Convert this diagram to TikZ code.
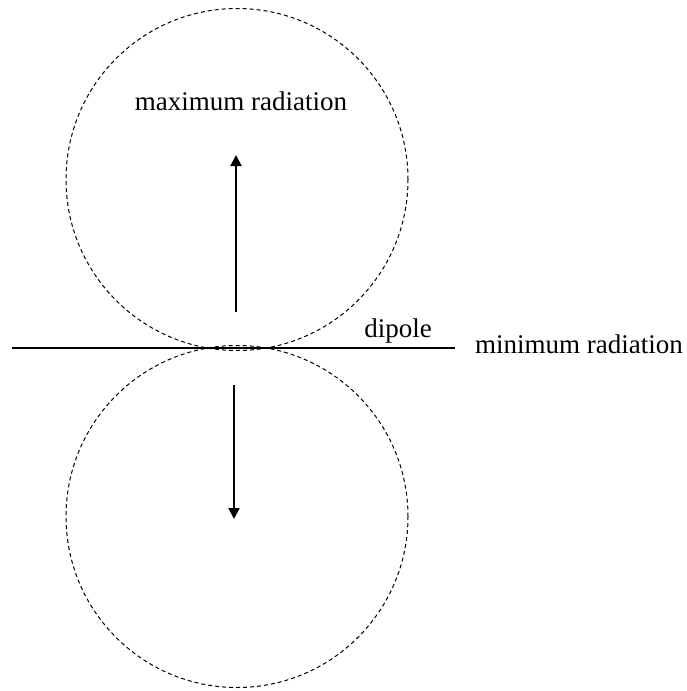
\documentclass[tikz,border=0pt]{standalone}
\usepackage{fontspec}
\setmainfont{Liberation Serif}
\usetikzlibrary{arrows.meta,positioning}

\tikzset{
  lobe/.style={circle,draw,dashed,dash pattern=on 2pt off 1.5pt,line width=0.5pt,
    minimum size=171pt,inner sep=0pt,outer sep=0pt},
  field/.style={line width=1pt,-{Triangle[length=5.5pt,width=5.5pt]}},
  lbl/.style={font=\fontsize{13.5}{16}\selectfont,inner sep=0pt,anchor=base}
}

\begin{document}
\begin{tikzpicture}[x=0.5pt,y=-0.5pt]
        \useasboundingbox (0,0) rectangle (686,691);
        % radiation lobes
        \node[lobe] (upper) at (237,179.5) {};
        \node[lobe] (lower) at (237,516.5) {};
        % dipole axis
        \coordinate (left) at (12,348);
        \coordinate (right) at (455,348);
        \draw[line width=1pt] (left) -- (right);
        % field arrows
        \coordinate (ustart) at (236,312);
        \coordinate (uend) at (236,155);
        \coordinate (lstart) at (234,385);
        \coordinate (lend) at (234,519);
        \draw[field] (ustart) -- (uend);
        \draw[field] (lstart) -- (lend);
        \node[lbl] (maxrad) at (241,110) {maximum radiation};
        \node[lbl] (dip) at (398,337) {dipole};
        \node[lbl] (minrad) at (579,353) {minimum radiation};
      \end{tikzpicture}
\end{document}
